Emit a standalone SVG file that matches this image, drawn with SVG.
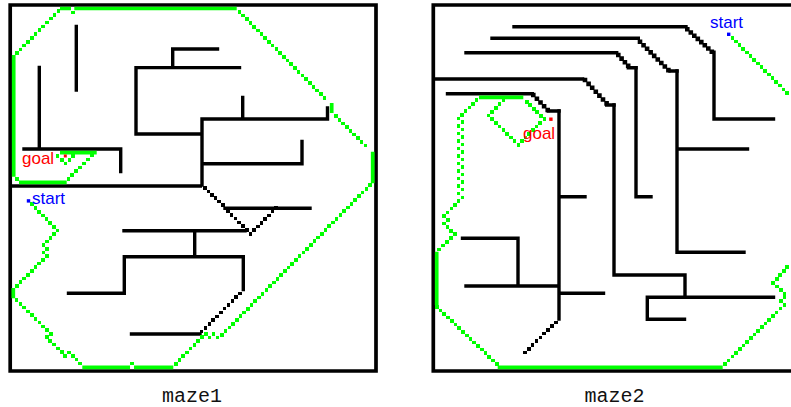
<svg xmlns="http://www.w3.org/2000/svg" width="791" height="407" viewBox="0 0 791 407">
<style>
.f{fill:none;stroke:#000;stroke-width:3.7}
.w{fill:none;stroke:#000;stroke-width:3.4;stroke-linecap:square}
.p{fill:none;stroke:#0f0;stroke-width:3.7}
.d{fill:none;stroke:#0f0;stroke-width:3.6;stroke-linecap:square;shape-rendering:crispEdges}
.k{fill:none;stroke:#000;stroke-width:3.6;stroke-linecap:square;shape-rendering:crispEdges}
.s{fill:none;stroke:#000;stroke-width:4.6;stroke-linecap:square}
.l{font-family:"Liberation Sans",Arial,sans-serif;font-size:17px}
.c{font-family:"Liberation Mono","Courier New",monospace;font-size:20px;fill:#111}
</style>
<rect width="791" height="407" fill="#fff"/>
<g id="maze1">
<path class="f" d="M10.2 5H376V371H10.2ZM10.2 186H202"/>
<path class="w" d="M76.3 26.5V90M39.3 67.5V148M24 149H120.7V171.5M172.7 67.6V49H217.5M239.5 67.6H136V134H202M202 185V119H327.5V108M242.7 97.5V119M202 163.7H302V141.5M225 208.3H310M124 230.7H245M194.7 230.7V256.7M243.3 289.5V256.7H124.3V293.3H68.5M131.5 334H200"/>
<path class="k" d="M205 188h0m3.55 3.4h0m3.55 3.4h0m3.55 3.4h0m3.55 3.4h0m3.55 3.4h0M227.7 211h0m3.8 3.8h0m3.8 3.8h0m3.8 3.8h0m3.8 3.8h0m3.8 3.8h0m3.8 3.8h0m3.67 -3.7h0m3.67 -3.7h0m3.67 -3.7h0m3.67 -3.7h0m3.67 -3.7h0m3.67 -3.7h0m3.67 -3.7h0M240 293.3h0m-3.83 3.84h0m-3.83 3.84h0m-3.83 3.84h0m-3.83 3.84h0m-3.83 3.84h0m-3.83 3.84h0m-3.83 3.84h0m-3.83 3.84h0m-3.83 3.84h0m-3.83 3.84h0"/>
<path class="p" d="M60 8.5H71M74.3 8.5H236.7M13.7 55V176.7M19 182.3H66.7M60 152.7H96.7M331.7 103V113M372.7 151.7V183.3M134 367.3H173.3M82.3 367.3H130M13.3 288V298.3"/>
<path class="d" d="M58.3 11h0m-3.78 3.84h0m-3.78 3.84h0m-3.78 3.84h0m-3.78 3.84h0m-3.78 3.84h0m-3.78 3.84h0m-3.78 3.84h0m-3.78 3.84h0m-3.78 3.84h0m-3.78 3.84h0m-3.78 3.84h0M72.7 12.3h0M17.3 179h0M68.3 179h0m3.9 -3.9h0m3.9 -3.9h0m3.9 -3.9h0m3.9 -3.9h0m3.9 -3.9h0m3.9 -3.9h0M57.3 156h0m4.4 4h0m3.6 3.3h0m4 -3.3h0m3.7 -4h0M239.3 11.7h0m3.71 3.75h0m3.71 3.75h0m3.71 3.75h0m3.71 3.75h0m3.71 3.75h0m3.71 3.75h0m3.71 3.75h0m3.71 3.75h0m3.71 3.75h0m3.71 3.75h0m3.71 3.75h0m3.71 3.75h0m3.71 3.75h0m3.71 3.75h0m3.71 3.75h0m3.71 3.75h0m3.71 3.75h0m3.71 3.75h0m3.71 3.75h0m3.71 3.75h0m3.71 3.75h0m3.71 3.75h0m3.71 3.75h0M335.7 116h0m3.7 3.7h0m3.7 3.7h0m3.7 3.7h0m3.7 3.7h0m3.7 3.7h0m3.7 3.7h0m3.7 3.7h0m3.7 3.7h0M370 185h0m-3.7 3.75h0m-3.7 3.75h0m-3.7 3.75h0m-3.7 3.75h0m-3.7 3.75h0m-3.7 3.75h0m-3.7 3.75h0m-3.7 3.75h0m-3.7 3.75h0m-3.7 3.75h0m-3.7 3.75h0m-3.7 3.75h0m-3.7 3.75h0m-3.7 3.75h0m-3.7 3.75h0m-3.7 3.75h0m-3.7 3.75h0m-3.7 3.75h0m-3.7 3.75h0m-3.7 3.75h0m-3.7 3.75h0m-3.7 3.75h0m-3.7 3.75h0m-3.7 3.75h0m-3.7 3.75h0m-3.7 3.75h0m-3.7 3.75h0m-3.7 3.75h0m-3.7 3.75h0m-3.7 3.75h0m-3.7 3.75h0m-3.7 3.75h0m-3.7 3.75h0m-3.7 3.75h0m-3.7 3.75h0m-3.7 3.75h0m-3.7 3.75h0m-3.7 3.75h0m-3.7 3.75h0m-3.7 3.75h0M217.3 337.3h0m-4 -3.3h0m-4 3.3h0m-3.6 -3.3h0m-4 3h0m-3.7 3.85h0m-3.7 3.85h0m-3.7 3.85h0m-3.7 3.85h0m-3.7 3.85h0m-3.7 3.85h0m-3.7 3.85h0M131.7 363.3h0M80 363.3h0m-3.7 -3.6h0m-3.6 -3.7h0m-3.7 -3.3h0m-4 3.3h0m-3.3 -3.7h0m-3.9 -3.8h0m-3.9 -3.8h0m-3.9 -3.7h0m-3.3 -3.7h0m4 -3.3h0m-3.78 -3.78h0m-3.78 -3.78h0m-3.78 -3.78h0m-3.78 -3.78h0m-3.78 -3.78h0m-3.78 -3.78h0m-3.78 -3.78h0m-3.78 -3.78h0m-3.78 -3.78h0M16.7 286h0m3.75 -3.75h0m3.75 -3.75h0m3.75 -3.75h0m3.75 -3.75h0m3.75 -3.75h0m3.75 -3.75h0m3.75 -3.75h0m3.75 -3.75h0m-3.4 -3.7h0m3.4 -3.3h0m-3.4 -4h0m3.6 -3.6h0m3.6 -3.6h0m3.6 -3.6h0m3.6 -3.6h0m-3.7 -3.77h0m-3.7 -3.77h0m-3.7 -3.77h0m-3.7 -3.77h0m-3.7 -3.77h0m-3.7 -3.77h0m-3.7 -3.77h0"/>
<rect x="63.8" y="154.5" width="3" height="3" fill="#f00"/>
<rect x="26.8" y="199.2" width="3.4" height="3.4" fill="#00f"/>
<text class="l" x="22" y="164" fill="#f00">goal</text>
<text class="l" x="32" y="204" fill="#00f">start</text>
<text class="c" x="162" y="402">maze1</text>
</g>
<g id="maze2">
<path class="f" d="M800 5H433.3V371H800M433.3 79H584.3"/>
<path class="w" d="M514 26.7H686M714 52.3V119H773.5M492 38.3H638.3M677 71V252.3H744M677 149H747.5M466 52.7H616.7M636 67.7V196.7H651M614 105V275H685V297.3M649 297.3H773.5M647.3 297.3V319.3H684.5M447.5 93.7H532.3M559 111V319M559 196.7H585M559 293.3H603.5M462.5 238.3H518V286M466 286H559"/>
<path class="w" d="M628.3 67.7H636M670 71H677M606.7 105H614M548.3 111H559"/>
<path class="s" d="M687.3 29.3h0m3.5 3.2h0m3.5 3.2h0m3.5 3.2h0m3.5 3.2h0m3.5 3.2h0m3.5 3.2h0m3.5 3.2h0M640 41.7h0m3.55 3.55h0m3.55 3.55h0m3.55 3.55h0m3.55 3.55h0m3.55 3.55h0m3.55 3.55h0m3.55 3.55h0m3.55 3.55h0M618.3 55h0m3.3 3.6h0m3.3 3.6h0m3.3 3.6h0M585 80h0m3.6 3.9h0m3.6 3.9h0m3.6 3.9h0m3.6 3.9h0m3.6 3.9h0m3.6 3.9h0M533.3 95h0m3.6 3.75h0m3.6 3.75h0m3.6 3.75h0m3.6 3.75h0"/>
<path class="k" d="M555.7 322.3h0m-3.84 3.8h0m-3.84 3.8h0m-3.84 3.8h0m-3.84 3.8h0m-3.84 3.8h0m-3.84 3.8h0m-3.84 3.8h0m-3.84 3.8h0"/>
<path class="p" d="M497.7 367.3H722.7M436.7 251.7V305M479 97.3H523.3"/>
<path class="d" d="M725 364h0m3.69 -3.69h0m3.69 -3.69h0m3.69 -3.69h0m3.69 -3.69h0m3.69 -3.69h0m3.69 -3.69h0m3.69 -3.69h0m3.69 -3.69h0m3.69 -3.69h0m3.69 -3.69h0m3.69 -3.69h0m3.69 -3.69h0m3.69 -3.69h0m3.69 -3.69h0m3.69 -3.69h0m4 -3.9h0m-3.3 -3.7h0m3.3 -4h0m0 -3.3h0m-3.6 -3.7h0m-4 -3.7h0m-4 -3.6h0m4 -3.9h0m3.5 -3.9h0m3.5 -3.9h0m3.5 -3.9h0M496.7 364h0m-3.75 -3.58h0m-3.75 -3.58h0m-3.75 -3.58h0m-3.75 -3.58h0m-3.75 -3.58h0m-3.75 -3.58h0m-3.75 -3.58h0m-3.75 -3.58h0m-3.75 -3.58h0m-3.75 -3.58h0m-3.75 -3.58h0m-3.75 -3.58h0m-3.75 -3.58h0m-3.75 -3.58h0m-3.75 -3.58h0m-3.75 -3.58h0M439 249.3h0m4 -3.8h0m4 -3.8h0m4 -3.8h0m4 -3.8h0m-4 -3.3h0m-3.6 -3.7h0m-3.4 -3.7h0m3.7 -3.3h0m-3.7 -4h0m3.66 -3.74h0m3.66 -3.74h0m3.66 -3.74h0m3.66 -3.74h0m3.66 -3.74h0m-4 -4h0m4 -3.75h0m-4 -3.75h0m4 -3.75h0m-4 -3.75h0m4 -3.75h0m-4 -3.75h0m4 -3.75h0m-4 -3.75h0m4 -3.75h0m-4 -3.75h0m4 -3.75h0m-4 -3.75h0m4 -3.75h0m-4 -3.75h0m4 -3.75h0m-4 -3.75h0m4 -3.75h0m-4 -3.75h0m4 -3.75h0m-4 -3.75h0m3.68 -3.66h0m3.68 -3.66h0m3.68 -3.66h0m3.68 -3.66h0m3.68 -3.66h0M526.7 101.7h0m3.52 3.52h0m3.52 3.52h0m3.52 3.52h0m3.52 3.52h0m3.52 3.52h0M540 122.7h0m-3.6 3.7h0m-3.6 3.7h0m-3.6 3.7h0m-3.6 3.7h0m-3.6 3.7h0m-3.6 3.7h0m-3.75 -3.66h0m-3.75 -3.66h0m-3.75 -3.66h0m-3.75 -3.66h0m-3.75 -3.66h0m-3.75 -3.66h0m-3.75 -3.66h0m-3.75 -3.66h0m3.75 -3.9h0m3.75 -3.9h0m3.75 -3.9h0m3.75 -3.9h0M732.3 37.7h0m3.65 3.69h0m3.65 3.69h0m3.65 3.69h0m3.65 3.69h0m3.65 3.69h0m3.65 3.69h0m3.65 3.69h0m3.65 3.69h0m3.65 3.69h0m3.65 3.69h0m3.65 3.69h0m3.65 3.69h0m3.65 3.69h0m3.65 3.69h0m3.65 3.69h0"/>
<rect x="549.2" y="117.5" width="3.4" height="3.4" fill="#f00"/>
<rect x="727" y="32.6" width="3.4" height="3.4" fill="#00f"/>
<text class="l" x="523" y="139" fill="#f00">goal</text>
<text class="l" x="710" y="28" fill="#00f">start</text>
<text class="c" x="584.5" y="402">maze2</text>
</g>
</svg>
